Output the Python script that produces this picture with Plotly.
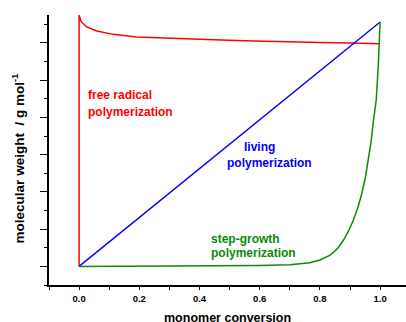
import plotly.graph_objects as go

# Data (normalized molecular weight vs monomer conversion)
radical_x = [0, 0, 0.007, 0.025, 0.059, 0.113, 0.191, 0.302, 0.424, 0.55, 0.668, 0.8, 0.9, 1.0]
radical_y = [0, 6.75, 6.57, 6.43, 6.32, 6.23, 6.16, 6.12, 6.09, 6.06, 6.03, 6.01, 5.995, 5.98]

living_x = [0, 1.0]
living_y = [0, 6.56]

step_x = [0, 0.2, 0.4, 0.5, 0.6, 0.7, 0.74, 0.767, 0.80, 0.834, 0.857, 0.878, 0.895, 0.911, 0.926, 0.939, 0.951, 0.961, 0.970, 0.978, 0.987, 0.994, 1.0]
step_y = [0, 0.005, 0.01, 0.015, 0.025, 0.046, 0.07, 0.10, 0.17, 0.30, 0.47, 0.70, 0.95, 1.24, 1.58, 1.95, 2.38, 2.85, 3.35, 3.92, 4.46, 5.4, 6.56]

x_tickvals = [0.0, 0.2, 0.4, 0.6, 0.8, 1.0]
x_ticktext = ["0.0", "0.2", "0.4", "0.6", "0.8", "1.0"]

FONT = "Liberation Sans, Arial, sans-serif"
RED = "#ff0000"
BLUE = "#0000ff"
GREEN = "#0a8a0a"

fig = go.Figure()
fig.add_trace(go.Scatter(x=radical_x, y=radical_y, mode="lines",
                         line=dict(color=RED, width=1.5), showlegend=False))
fig.add_trace(go.Scatter(x=living_x, y=living_y, mode="lines",
                         line=dict(color=BLUE, width=1.4), showlegend=False))
fig.add_trace(go.Scatter(x=step_x, y=step_y, mode="lines",
                         line=dict(color=GREEN, width=1.5), showlegend=False))

labels = [
    ("free radical", 0.027, 4.6, RED),
    ("polymerization", 0.027, 4.15, RED),
    ("living", 0.544, 3.2, BLUE),
    ("polymerization", 0.487, 2.78, BLUE),
    ("step-growth", 0.435, 0.726, GREEN),
    ("polymerization", 0.435, 0.35, GREEN),
]
for txt, lx, ly, col in labels:
    fig.add_annotation(x=lx, y=ly, xref="x", yref="y", text="<b>%s</b>" % txt,
                       showarrow=False, xanchor="left", yanchor="middle",
                       font=dict(family=FONT, size=12, color=col), borderpad=0)

# axis titles
fig.add_annotation(x=0.5, y=-0.122, xref="paper", yref="paper",
                   text="<b>monomer conversion</b>", showarrow=False,
                   xanchor="center", yanchor="middle",
                   font=dict(family=FONT, size=12.5, color="black"))
fig.add_annotation(x=-0.086, y=0.47, xref="paper", yref="paper",
                   text="<b>molecular weight  / g mol<sup>-1</sup></b>", showarrow=False,
                   textangle=-90, xanchor="center", yanchor="middle",
                   font=dict(family=FONT, size=13.5, color="black"))

fig.update_layout(
    width=406, height=322,
    margin=dict(l=49, r=0, t=15, b=37),
    paper_bgcolor="white", plot_bgcolor="white",
    font=dict(family=FONT, color="black"),
    xaxis=dict(range=[-0.1, 1.086], showgrid=False, zeroline=False,
               showline=True, linecolor="black", linewidth=1.5,
               tickmode="array", tickvals=x_tickvals, ticktext=x_ticktext,
               ticks="outside", ticklen=3.5, tickwidth=1, tickcolor="black",
               tickfont=dict(family=FONT, size=9.5, color="black", weight="bold"),
               minor=dict(tickmode="linear", tick0=-0.1, dtick=0.1, ticks="outside",
                          ticklen=3.5, tickwidth=1, tickcolor="black", showgrid=False)),
    yaxis=dict(range=[-0.5, 6.75], showgrid=False, zeroline=False,
               showline=True, linecolor="black", linewidth=1.5,
               tickmode="linear", tick0=0, dtick=1, showticklabels=False,
               ticks="outside", ticklen=7, tickwidth=1, tickcolor="black",
               minor=dict(tickmode="linear", tick0=0.5, dtick=1, ticks="outside",
                          ticklen=3.5, tickwidth=1, tickcolor="black", showgrid=False)),
)

fig.write_html("out.html")
